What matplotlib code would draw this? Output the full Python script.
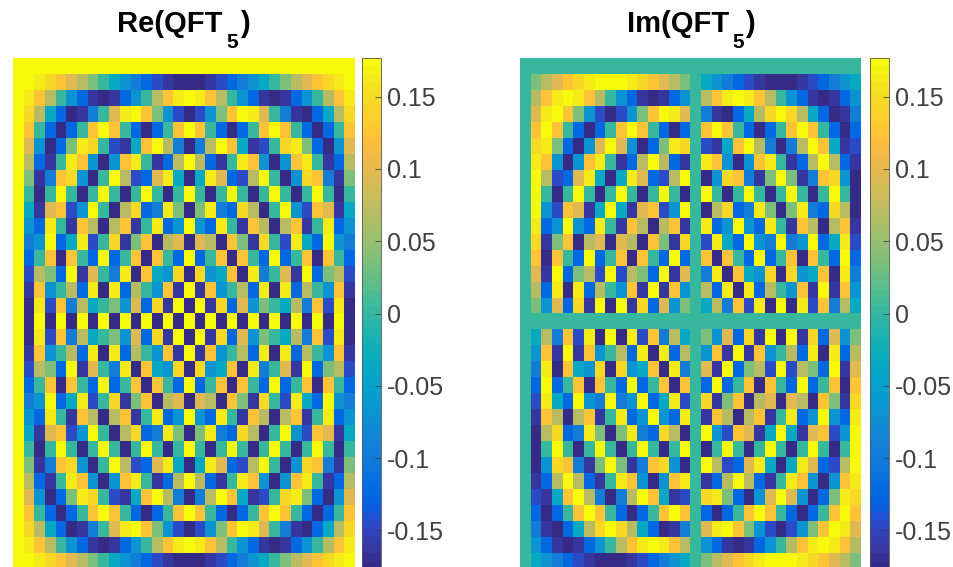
import numpy as np
import matplotlib
matplotlib.use("Agg")
import matplotlib.pyplot as plt
from matplotlib.colors import ListedColormap

plt.rcParams['font.family'] = ['Liberation Sans', 'DejaVu Sans']

# Cell values in thousandths
re_values = [
[177,177,177,177,177,177,177,177,177,177,177,177,177,177,177,177,177,177,177,177,177,177,177,177,177,177,177,177,177,177,177,177],
[177,173,163,147,125,98,68,34,0,-34,-68,-98,-125,-147,-163,-173,-177,-173,-163,-147,-125,-98,-68,-34,0,34,68,98,125,147,163,173],
[177,163,125,68,0,-68,-125,-163,-177,-163,-125,-68,0,68,125,163,177,163,125,68,0,-68,-125,-163,-177,-163,-125,-68,0,68,125,163],
[177,147,68,-34,-125,-173,-163,-98,0,98,163,173,125,34,-68,-147,-177,-147,-68,34,125,173,163,98,0,-98,-163,-173,-125,-34,68,147],
[177,125,0,-125,-177,-125,0,125,177,125,0,-125,-177,-125,0,125,177,125,0,-125,-177,-125,0,125,177,125,0,-125,-177,-125,0,125],
[177,98,-68,-173,-125,34,163,147,0,-147,-163,-34,125,173,68,-98,-177,-98,68,173,125,-34,-163,-147,0,147,163,34,-125,-173,-68,98],
[177,68,-125,-163,0,163,125,-68,-177,-68,125,163,0,-163,-125,68,177,68,-125,-163,0,163,125,-68,-177,-68,125,163,0,-163,-125,68],
[177,34,-163,-98,125,147,-68,-173,0,173,68,-147,-125,98,163,-34,-177,-34,163,98,-125,-147,68,173,0,-173,-68,147,125,-98,-163,34],
[177,0,-177,0,177,0,-177,0,177,0,-177,0,177,0,-177,0,177,0,-177,0,177,0,-177,0,177,0,-177,0,177,0,-177,0],
[177,-34,-163,98,125,-147,-68,173,0,-173,68,147,-125,-98,163,34,-177,34,163,-98,-125,147,68,-173,0,173,-68,-147,125,98,-163,-34],
[177,-68,-125,163,0,-163,125,68,-177,68,125,-163,0,163,-125,-68,177,-68,-125,163,0,-163,125,68,-177,68,125,-163,0,163,-125,-68],
[177,-98,-68,173,-125,-34,163,-147,0,147,-163,34,125,-173,68,98,-177,98,68,-173,125,34,-163,147,0,-147,163,-34,-125,173,-68,-98],
[177,-125,0,125,-177,125,0,-125,177,-125,0,125,-177,125,0,-125,177,-125,0,125,-177,125,0,-125,177,-125,0,125,-177,125,0,-125],
[177,-147,68,34,-125,173,-163,98,0,-98,163,-173,125,-34,-68,147,-177,147,-68,-34,125,-173,163,-98,0,98,-163,173,-125,34,68,-147],
[177,-163,125,-68,0,68,-125,163,-177,163,-125,68,0,-68,125,-163,177,-163,125,-68,0,68,-125,163,-177,163,-125,68,0,-68,125,-163],
[177,-173,163,-147,125,-98,68,-34,0,34,-68,98,-125,147,-163,173,-177,173,-163,147,-125,98,-68,34,0,-34,68,-98,125,-147,163,-173],
[177,-177,177,-177,177,-177,177,-177,177,-177,177,-177,177,-177,177,-177,177,-177,177,-177,177,-177,177,-177,177,-177,177,-177,177,-177,177,-177],
[177,-173,163,-147,125,-98,68,-34,0,34,-68,98,-125,147,-163,173,-177,173,-163,147,-125,98,-68,34,0,-34,68,-98,125,-147,163,-173],
[177,-163,125,-68,0,68,-125,163,-177,163,-125,68,0,-68,125,-163,177,-163,125,-68,0,68,-125,163,-177,163,-125,68,0,-68,125,-163],
[177,-147,68,34,-125,173,-163,98,0,-98,163,-173,125,-34,-68,147,-177,147,-68,-34,125,-173,163,-98,0,98,-163,173,-125,34,68,-147],
[177,-125,0,125,-177,125,0,-125,177,-125,0,125,-177,125,0,-125,177,-125,0,125,-177,125,0,-125,177,-125,0,125,-177,125,0,-125],
[177,-98,-68,173,-125,-34,163,-147,0,147,-163,34,125,-173,68,98,-177,98,68,-173,125,34,-163,147,0,-147,163,-34,-125,173,-68,-98],
[177,-68,-125,163,0,-163,125,68,-177,68,125,-163,0,163,-125,-68,177,-68,-125,163,0,-163,125,68,-177,68,125,-163,0,163,-125,-68],
[177,-34,-163,98,125,-147,-68,173,0,-173,68,147,-125,-98,163,34,-177,34,163,-98,-125,147,68,-173,0,173,-68,-147,125,98,-163,-34],
[177,0,-177,0,177,0,-177,0,177,0,-177,0,177,0,-177,0,177,0,-177,0,177,0,-177,0,177,0,-177,0,177,0,-177,0],
[177,34,-163,-98,125,147,-68,-173,0,173,68,-147,-125,98,163,-34,-177,-34,163,98,-125,-147,68,173,0,-173,-68,147,125,-98,-163,34],
[177,68,-125,-163,0,163,125,-68,-177,-68,125,163,0,-163,-125,68,177,68,-125,-163,0,163,125,-68,-177,-68,125,163,0,-163,-125,68],
[177,98,-68,-173,-125,34,163,147,0,-147,-163,-34,125,173,68,-98,-177,-98,68,173,125,-34,-163,-147,0,147,163,34,-125,-173,-68,98],
[177,125,0,-125,-177,-125,0,125,177,125,0,-125,-177,-125,0,125,177,125,0,-125,-177,-125,0,125,177,125,0,-125,-177,-125,0,125],
[177,147,68,-34,-125,-173,-163,-98,0,98,163,173,125,34,-68,-147,-177,-147,-68,34,125,173,163,98,0,-98,-163,-173,-125,-34,68,147],
[177,163,125,68,0,-68,-125,-163,-177,-163,-125,-68,0,68,125,163,177,163,125,68,0,-68,-125,-163,-177,-163,-125,-68,0,68,125,163],
[177,173,163,147,125,98,68,34,0,-34,-68,-98,-125,-147,-163,-173,-177,-173,-163,-147,-125,-98,-68,-34,0,34,68,98,125,147,163,173],
]

im_values = [
[0,0,0,0,0,0,0,0,0,0,0,0,0,0,0,0,0,0,0,0,0,0,0,0,0,0,0,0,0,0,0,0],
[0,34,68,98,125,147,163,173,177,173,163,147,125,98,68,34,0,-34,-68,-98,-125,-147,-163,-173,-177,-173,-163,-147,-125,-98,-68,-34],
[0,68,125,163,177,163,125,68,0,-68,-125,-163,-177,-163,-125,-68,0,68,125,163,177,163,125,68,0,-68,-125,-163,-177,-163,-125,-68],
[0,98,163,173,125,34,-68,-147,-177,-147,-68,34,125,173,163,98,0,-98,-163,-173,-125,-34,68,147,177,147,68,-34,-125,-173,-163,-98],
[0,125,177,125,0,-125,-177,-125,0,125,177,125,0,-125,-177,-125,0,125,177,125,0,-125,-177,-125,0,125,177,125,0,-125,-177,-125],
[0,147,163,34,-125,-173,-68,98,177,98,-68,-173,-125,34,163,147,0,-147,-163,-34,125,173,68,-98,-177,-98,68,173,125,-34,-163,-147],
[0,163,125,-68,-177,-68,125,163,0,-163,-125,68,177,68,-125,-163,0,163,125,-68,-177,-68,125,163,0,-163,-125,68,177,68,-125,-163],
[0,173,68,-147,-125,98,163,-34,-177,-34,163,98,-125,-147,68,173,0,-173,-68,147,125,-98,-163,34,177,34,-163,-98,125,147,-68,-173],
[0,177,0,-177,0,177,0,-177,0,177,0,-177,0,177,0,-177,0,177,0,-177,0,177,0,-177,0,177,0,-177,0,177,0,-177],
[0,173,-68,-147,125,98,-163,-34,177,-34,-163,98,125,-147,-68,173,0,-173,68,147,-125,-98,163,34,-177,34,163,-98,-125,147,68,-173],
[0,163,-125,-68,177,-68,-125,163,0,-163,125,68,-177,68,125,-163,0,163,-125,-68,177,-68,-125,163,0,-163,125,68,-177,68,125,-163],
[0,147,-163,34,125,-173,68,98,-177,98,68,-173,125,34,-163,147,0,-147,163,-34,-125,173,-68,-98,177,-98,-68,173,-125,-34,163,-147],
[0,125,-177,125,0,-125,177,-125,0,125,-177,125,0,-125,177,-125,0,125,-177,125,0,-125,177,-125,0,125,-177,125,0,-125,177,-125],
[0,98,-163,173,-125,34,68,-147,177,-147,68,34,-125,173,-163,98,0,-98,163,-173,125,-34,-68,147,-177,147,-68,-34,125,-173,163,-98],
[0,68,-125,163,-177,163,-125,68,0,-68,125,-163,177,-163,125,-68,0,68,-125,163,-177,163,-125,68,0,-68,125,-163,177,-163,125,-68],
[0,34,-68,98,-125,147,-163,173,-177,173,-163,147,-125,98,-68,34,0,-34,68,-98,125,-147,163,-173,177,-173,163,-147,125,-98,68,-34],
[0,0,0,0,0,0,0,0,0,0,0,0,0,0,0,0,0,0,0,0,0,0,0,0,0,0,0,0,0,0,0,0],
[0,-34,68,-98,125,-147,163,-173,177,-173,163,-147,125,-98,68,-34,0,34,-68,98,-125,147,-163,173,-177,173,-163,147,-125,98,-68,34],
[0,-68,125,-163,177,-163,125,-68,0,68,-125,163,-177,163,-125,68,0,-68,125,-163,177,-163,125,-68,0,68,-125,163,-177,163,-125,68],
[0,-98,163,-173,125,-34,-68,147,-177,147,-68,-34,125,-173,163,-98,0,98,-163,173,-125,34,68,-147,177,-147,68,34,-125,173,-163,98],
[0,-125,177,-125,0,125,-177,125,0,-125,177,-125,0,125,-177,125,0,-125,177,-125,0,125,-177,125,0,-125,177,-125,0,125,-177,125],
[0,-147,163,-34,-125,173,-68,-98,177,-98,-68,173,-125,-34,163,-147,0,147,-163,34,125,-173,68,98,-177,98,68,-173,125,34,-163,147],
[0,-163,125,68,-177,68,125,-163,0,163,-125,-68,177,-68,-125,163,0,-163,125,68,-177,68,125,-163,0,163,-125,-68,177,-68,-125,163],
[0,-173,68,147,-125,-98,163,34,-177,34,163,-98,-125,147,68,-173,0,173,-68,-147,125,98,-163,-34,177,-34,-163,98,125,-147,-68,173],
[0,-177,0,177,0,-177,0,177,0,-177,0,177,0,-177,0,177,0,-177,0,177,0,-177,0,177,0,-177,0,177,0,-177,0,177],
[0,-173,-68,147,125,-98,-163,34,177,34,-163,-98,125,147,-68,-173,0,173,68,-147,-125,98,163,-34,-177,-34,163,98,-125,-147,68,173],
[0,-163,-125,68,177,68,-125,-163,0,163,125,-68,-177,-68,125,163,0,-163,-125,68,177,68,-125,-163,0,163,125,-68,-177,-68,125,163],
[0,-147,-163,-34,125,173,68,-98,-177,-98,68,173,125,-34,-163,-147,0,147,163,34,-125,-173,-68,98,177,98,-68,-173,-125,34,163,147],
[0,-125,-177,-125,0,125,177,125,0,-125,-177,-125,0,125,177,125,0,-125,-177,-125,0,125,177,125,0,-125,-177,-125,0,125,177,125],
[0,-98,-163,-173,-125,-34,68,147,177,147,68,-34,-125,-173,-163,-98,0,98,163,173,125,34,-68,-147,-177,-147,-68,34,125,173,163,98],
[0,-68,-125,-163,-177,-163,-125,-68,0,68,125,163,177,163,125,68,0,-68,-125,-163,-177,-163,-125,-68,0,68,125,163,177,163,125,68],
[0,-34,-68,-98,-125,-147,-163,-173,-177,-173,-163,-147,-125,-98,-68,-34,0,34,68,98,125,147,163,173,177,173,163,147,125,98,68,34],
]

tick_values = [-0.15, -0.1, -0.05, 0, 0.05, 0.1, 0.15]
tick_labels = ['-0.15', '-0.1', '-0.05', '0', '0.05', '0.1', '0.15']
title_heads = ['Re(QFT', 'Im(QFT']
title_sub = '5'
title_tail = ')'

parula = ListedColormap([
(0.2081,0.1663,0.5292),(0.2116,0.1898,0.5777),(0.2123,0.2138,0.6270),(0.2081,0.2386,0.6771),
(0.1959,0.2645,0.7279),(0.1707,0.2919,0.7792),(0.1253,0.3242,0.8303),(0.0591,0.3598,0.8683),
(0.0117,0.3875,0.8820),(0.0060,0.4086,0.8828),(0.0165,0.4266,0.8786),(0.0329,0.4430,0.8720),
(0.0498,0.4586,0.8641),(0.0629,0.4737,0.8554),(0.0723,0.4887,0.8467),(0.0779,0.5040,0.8384),
(0.0793,0.5200,0.8312),(0.0749,0.5375,0.8263),(0.0641,0.5570,0.8240),(0.0488,0.5772,0.8228),
(0.0343,0.5966,0.8199),(0.0265,0.6137,0.8135),(0.0239,0.6287,0.8038),(0.0231,0.6418,0.7913),
(0.0228,0.6535,0.7768),(0.0267,0.6642,0.7607),(0.0384,0.6743,0.7436),(0.0590,0.6838,0.7254),
(0.0843,0.6928,0.7062),(0.1133,0.7015,0.6859),(0.1453,0.7098,0.6646),(0.1801,0.7177,0.6424),
(0.2178,0.7250,0.6193),(0.2586,0.7317,0.5954),(0.3022,0.7376,0.5712),(0.3482,0.7424,0.5473),
(0.3953,0.7459,0.5244),(0.4420,0.7481,0.5033),(0.4871,0.7491,0.4840),(0.5300,0.7491,0.4661),
(0.5709,0.7485,0.4494),(0.6099,0.7473,0.4337),(0.6473,0.7456,0.4188),(0.6834,0.7435,0.4044),
(0.7184,0.7411,0.3905),(0.7525,0.7384,0.3768),(0.7858,0.7356,0.3633),(0.8185,0.7327,0.3498),
(0.8507,0.7299,0.3360),(0.8824,0.7274,0.3217),(0.9139,0.7258,0.3063),(0.9450,0.7261,0.2886),
(0.9739,0.7314,0.2666),(0.9938,0.7455,0.2403),(0.9990,0.7653,0.2164),(0.9955,0.7861,0.1967),
(0.9880,0.8066,0.1794),(0.9789,0.8271,0.1633),(0.9697,0.8481,0.1475),(0.9626,0.8705,0.1309),
(0.9589,0.8949,0.1132),(0.9598,0.9218,0.0948),(0.9661,0.9514,0.0755),(0.9763,0.9831,0.0538),
])

W, H = 954, 567
fig = plt.figure(figsize=(W / 100, H / 100), dpi=100, facecolor='white')


def box(x0, x1, top, bottom):
    return [x0 / W, (H - bottom) / H, (x1 - x0) / W, (bottom - top) / H]


def label(x, y, text, size):
    fig.text(x / W, (H - y) / H, text, ha='left', va='baseline',
             fontsize=size, fontweight='bold', color='black')


panels = [
    (re_values, title_heads[0], (13, 355), (362, 381), (117, 226, 240)),
    (im_values, title_heads[1], (520, 861), (870, 889), (627, 732, 745)),
]
for values, head, (x0, x1), (c0, c1), (hx, sx, tx) in panels:
    ax = fig.add_axes(box(x0, x1, 58, 569))
    mesh = ax.imshow(np.array(values) / 1000, cmap=parula, vmin=-0.1768, vmax=0.1768,
                     aspect='auto', interpolation='nearest')
    ax.set_axis_off()
    cax = fig.add_axes(box(c0, c1, 58, 569))
    cb = fig.colorbar(mesh, cax=cax)
    cb.set_ticks(tick_values)
    cb.set_ticklabels(tick_labels)
    cb.ax.tick_params(direction='in', length=4, width=0.6, color='#404040',
                      labelcolor='#404040', labelsize=18, pad=4.5)
    cb.outline.set_edgecolor('#555555')
    cb.outline.set_linewidth(0.6)
    label(hx, 32, head, 21)
    label(sx, 48, title_sub, 15)
    label(tx, 32, title_tail, 21)

fig.savefig('out.png', dpi=100)
